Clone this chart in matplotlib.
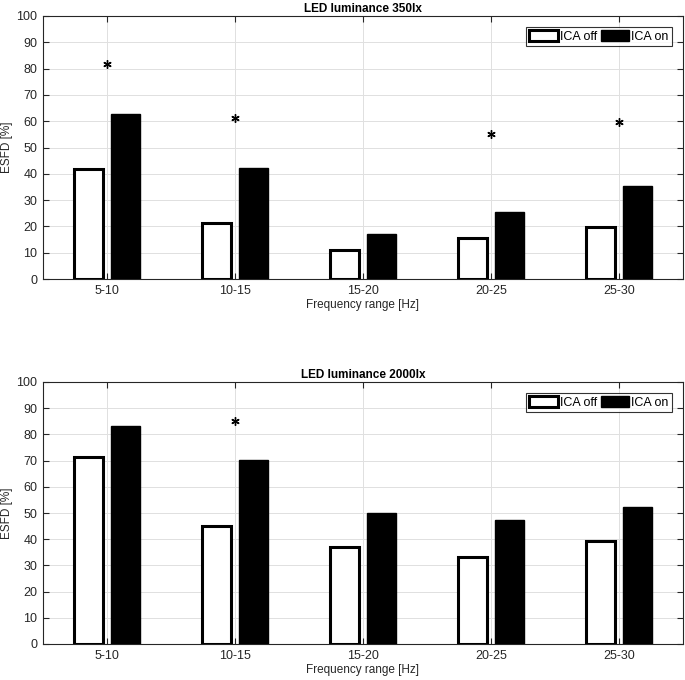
import numpy as np
import matplotlib
matplotlib.use('Agg')
import matplotlib.pyplot as plt

plt.rcParams['font.family'] = ['Liberation Sans', 'DejaVu Sans']

# data
ranges = ['5-10', '10-15', '15-20', '20-25', '25-30']
titles = ['LED luminance 350lx', 'LED luminance 2000lx']
ica_off_350 = [41.8, 21.2, 11.1, 15.6, 19.8]
ica_on_350 = [62.7, 42.3, 17.1, 25.6, 35.5]
star_350 = [81.6, 61.1, np.nan, 55.2, 59.6]
ica_off_2000 = [71.4, 45.2, 36.9, 33.1, 39.5]
ica_on_2000 = [83.2, 70.3, 49.9, 47.5, 52.3]
star_2000 = [np.nan, 85.0, np.nan, np.nan, np.nan]

fig = plt.figure(figsize=(6.85, 6.8), dpi=100)
ax1 = fig.add_axes([43/685, 1 - 279/680, 640/685, 263/680])
ax2 = fig.add_axes([43/685, 1 - 644/680, 640/685, 262/680])

x = np.arange(1, len(ranges) + 1)
w = 0.225
off = 0.145

for ax, title, off_v, on_v, st in [(ax1, titles[0], ica_off_350, ica_on_350, star_350),
                                   (ax2, titles[1], ica_off_2000, ica_on_2000, star_2000)]:
    ax.bar(x - off, off_v, w, color='white', edgecolor='black', linewidth=2.2,
           label='ICA off', zorder=3)
    ax.bar(x + off, on_v, w, color='black', edgecolor='black', linewidth=1.0,
           label='ICA on', zorder=3)
    # MATLAB style asterisk marker
    ax.plot(x, st, linestyle='none', marker=(6, 2, 0), color='black', markersize=6,
            markeredgewidth=1.0, zorder=4)
    ax.set_xlim(0.5, 5.5)
    ax.set_ylim(0, 100)
    ax.set_xticks(x)
    ax.set_xticklabels(ranges)
    ax.set_yticks(np.arange(0, 101, 10))
    ax.grid(True, color='#e0e0e0', linewidth=0.7, zorder=0)
    ax.set_axisbelow(True)
    ax.tick_params(direction='in', top=True, right=True, length=4, width=0.8,
                   labelsize=9, colors='#262626', labelcolor='#262626', pad=4)
    for s in ax.spines.values():
        s.set_color('#262626')
        s.set_linewidth(0.8)
    ax.set_title(title, fontsize=8.5, fontweight='bold', pad=3)
    ax.set_xlabel('Frequency range [Hz]', fontsize=8.5, color='#262626', labelpad=2)
    ax.set_ylabel('ESFD [%]', fontsize=8.5, color='#262626')
    ax.yaxis.set_label_coords(-0.047, 0.5)
    leg = ax.legend(loc='upper right', ncol=2, fontsize=9, frameon=True, fancybox=False,
                    handlelength=2.3, handleheight=0.95, handletextpad=0.15,
                    columnspacing=0.3, borderpad=0.25, borderaxespad=0.9)
    leg.get_frame().set_edgecolor('black')
    leg.get_frame().set_linewidth(0.8)

fig.savefig('out.png', dpi=100)
